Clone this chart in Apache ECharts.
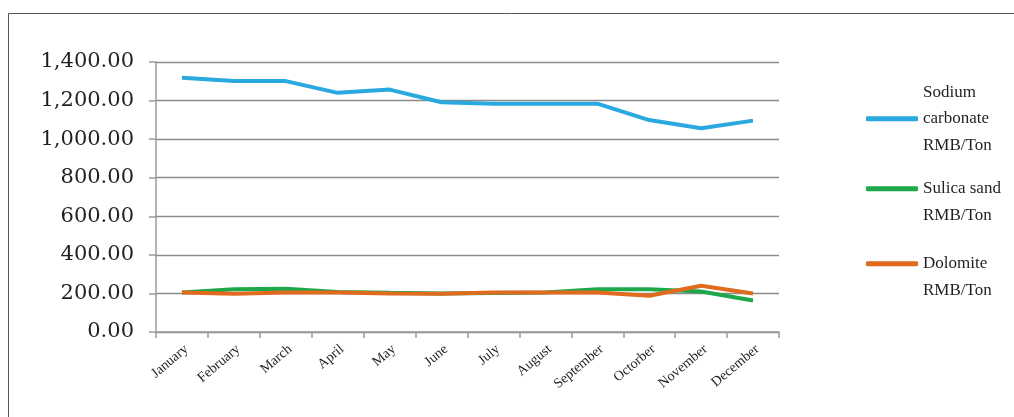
<!DOCTYPE html>
<html>
<head>
<meta charset="utf-8">
<style>
  html, body { margin: 0; padding: 0; background: #fff; overflow: hidden; }
  #chart { width: 1014px; height: 417px; }
</style>
<script src="https://cdn.jsdelivr.net/npm/echarts@6/dist/echarts.min.js"></script>
</head>
<body>
<div id="chart"></div>
<script>
  // Monthly raw material prices, RMB/Ton
  const months = ['January', 'February', 'March', 'April', 'May', 'June',
    'July', 'August', 'September', 'Octorber', 'November', 'December'];
  const sodiumCarbonate = [1318, 1301, 1301, 1240, 1257, 1191, 1183, 1183, 1184, 1099, 1056, 1096];
  const silicaSand = [205, 222, 224, 208, 203, 200, 202, 205, 222, 222, 210, 163];
  const dolomite = [205, 198, 205, 205, 200, 198, 205, 205, 205, 188, 240, 200];

  const serif = '"Liberation Serif", "Times New Roman", serif';

  const fmt = function (v) {
    const s = v.toFixed(2);
    const parts = s.split('.');
    return parts[0].replace(/\B(?=(\d{3})+(?!\d))/g, ',') + '.' + parts[1];
  };

  const legendText = { fontFamily: serif, fontSize: 17, color: '#231f20', lineHeight: 26.5 };
  const mkLegend = function (name, top) {
    return {
      data: [name], orient: 'vertical', left: 866, top: top, padding: 0,
      itemWidth: 52, itemHeight: 5, itemGap: 0,
      icon: 'roundRect', textStyle: legendText,
      formatter: function (n) {
        if (n === 'Sodium carbonate') return 'Sodium\ncarbonate\nRMB/Ton';
        if (n === 'Sulica sand') return ' \nSulica sand\nRMB/Ton';
        return ' \nDolomite\nRMB/Ton';
      },
    };
  };

  const chart = echarts.init(document.getElementById('chart'), null, { renderer: 'canvas' });
  chart.setOption({
    animation: false,
    graphic: [{
      type: 'rect', silent: true,
      shape: { x: 8.5, y: 13.5, width: 1100, height: 500 },
      style: { fill: 'none', stroke: '#555', lineWidth: 1 },
    }],
    grid: { left: 156, right: 235, top: 62, bottom: 85 },
    legend: [
      mkLegend('Sodium carbonate', 79),
      mkLegend('Sulica sand', 149),
      mkLegend('Dolomite', 224),
    ],
    xAxis: {
      type: 'category', data: months, boundaryGap: true,
      axisLine: { lineStyle: { color: '#9a9a9a', width: 1.5 } },
      axisTick: { show: true, length: 6, lineStyle: { color: '#9a9a9a', width: 1.5 } },
      axisLabel: { rotate: 40, margin: 10, verticalAlign: 'top', fontFamily: serif, fontSize: 14,
        color: '#231f20', interval: 0 },
    },
    yAxis: {
      type: 'value', min: 0, max: 1400, interval: 200,
      axisLine: { show: true, lineStyle: { color: '#9a9a9a', width: 1.5 } },
      axisTick: { show: true, length: 7, lineStyle: { color: '#9a9a9a', width: 1.5 } },
      splitLine: { lineStyle: { color: '#8c8c8c', width: 1.3 } },
      axisLabel: { formatter: fmt, margin: 22, fontFamily: '"DejaVu Serif", serif', fontSize: 21, color: '#231f20' },
    },
    series: [
      { name: 'Sodium carbonate', type: 'line', data: sodiumCarbonate, showSymbol: false,
        lineStyle: { color: '#2aa8e0', width: 4 }, itemStyle: { color: '#2aa8e0' } },
      { name: 'Sulica sand', type: 'line', data: silicaSand, showSymbol: false,
        lineStyle: { color: '#1fa84a', width: 4 }, itemStyle: { color: '#1fa84a' } },
      { name: 'Dolomite', type: 'line', data: dolomite, showSymbol: false,
        lineStyle: { color: '#e06a1e', width: 4 }, itemStyle: { color: '#e06a1e' } },
    ],
  });
</script>
</body>
</html>
